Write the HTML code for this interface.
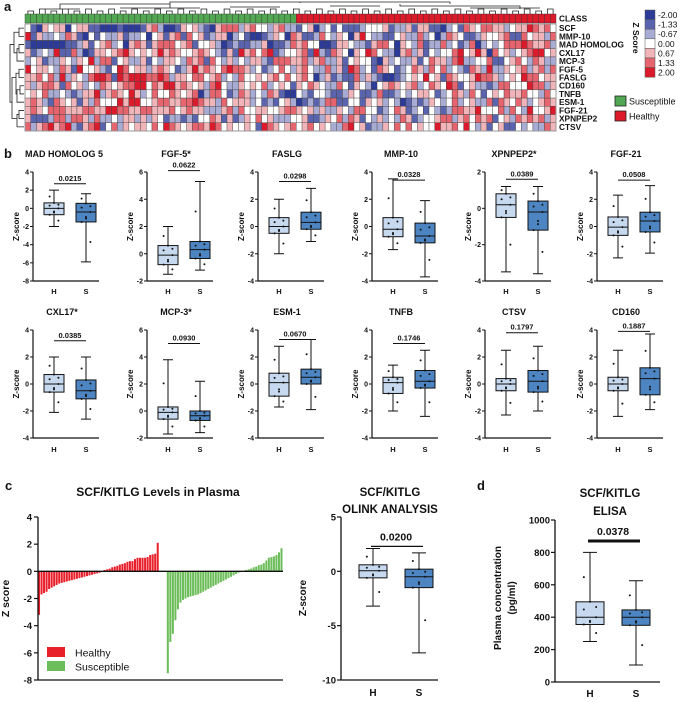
<!DOCTYPE html>
<html><head><meta charset="utf-8"><style>
html,body{margin:0;padding:0;background:#fff}
svg{display:block;font-family:"Liberation Sans",sans-serif}
</style></head><body>
<svg id="fig" width="681" height="702" viewBox="0 0 681 702" xmlns="http://www.w3.org/2000/svg"></svg>
<script>
// ---------- DATA ----------
const heatRows = ["SCF","MMP-10","MAD HOMOLOG","CXL17","MCP-3","FGF-5","FASLG","CD160","TNFB","ESM-1","FGF-21","XPNPEP2","CTSV"];
const heatLevels = [
"3104344034411000100014520014342104555245332452213402313111233341224144110231543554423446545301",
"6142232541031322412230341451534124402310012430541125324304632211342252302543112433451153442534",
"1000000112413452304541455534513342012112240112545330014432214553043251225231250232355565445234",
"4123261152014434564343464543345432141645356123345162154304365322045241323356346405342345663424",
"2341224324362551342241324432545153242324421555445245224134331042322413544256223351134532542245",
"6344325416334213653442454312464543565542312353245322524165231543123542535232154262243452452543",
"4453526243256651656665565244355345232533434535345302412115242100123436341543346554234365534432",
"4245541534232543455663546645434256322434352343143543225314320345434523543651342212553336552422",
"3435223212446245436423533543450255312542325410032133211243112511232344312354253134354453325342",
"4542154341425333646633455445565442534442312134201212551133143423201212432352342251543542345443",
"4543555444554466554455444534544222452533443345543424224325533123541231321255446333525326334631",
"4111255255425223244242431221213354141243534222334112435254132423254123345524535451342545452412",
"5245645621456135243443536543455465343343165434534534322563412243535343364453632413411323225423"
];
const heatColors = ["#2c3b98","#5a63ad","#a8abd3","#ffffff","#f1b4b9","#e5646e","#db1b2b"];
const legendLabels = ["-2.00","-1.33","-0.67","0.00","0.67","1.33","2.00"];

const boxTitles = ["MAD HOMOLOG 5","FGF-5*","FASLG","MMP-10","XPNPEP2*","FGF-21","CXL17*","MCP-3*","ESM-1","TNFB","CTSV","CD160"];
const boxPvals = ["0.0215","0.0622","0.0298","0.0328","0.0389","0.0508","0.0385","0.0930","0.0670","0.1746","0.1797","0.1887"];
const yMax = [4,6,4,4,2,4, 4,6,4,4,4,4];
const yMin = [-8,-2,-4,-4,-4,-4, -4,-2,-4,-4,-4,-4];
const bracketVal = [2.7,6.1,3.3,3.4,1.6,3.4, 3.2,5.0,3.3,3.0,3.8,3.9];
// [min,q1,med,q3,max]
const healthyStats = [
[-2,-0.7,0,0.6,2],[-1.5,-0.8,-0.1,0.6,2],[-2,-0.5,0,0.65,2],[-1.7,-0.75,-0.2,0.65,3.5],[-3.5,-0.5,0.2,0.8,1.2],[-2.3,-0.65,-0.05,0.7,2.3],
[-2.1,-0.6,0,0.7,2],[-1.7,-0.6,-0.1,0.3,3.8],[-1.7,-0.9,0.1,0.8,2.8],[-2,-0.7,0.1,0.5,1.4],[-2.3,-0.5,0,0.4,2.5],[-2.4,-0.5,0,0.5,2.5]];
const suscStats = [
[-5.9,-1.5,-0.4,0.55,1.6],[-1.2,-0.35,0.3,0.9,5.3],[-1.1,-0.2,0.3,1.05,2.8],[-3.7,-1.2,-0.7,0.25,1.9],[-3.6,-1.2,-0.2,0.4,1.2],[-1.95,-0.4,0.4,1.05,3],
[-2.6,-1.1,-0.5,0.3,2],[-1.6,-0.7,-0.35,0,2.2],[-1.9,0,0.5,1.1,3.3],[-2.4,-0.3,0.2,1.0,2.5],[-2.0,-0.6,0.2,1.0,2.8],[-1.9,-0.8,0.4,1.2,3.7]];

const healthyBars = [-3.2,-1.7,-1.6,-1.5,-1.3,-1.2,-1.1,-1.0,-0.9,-0.85,-0.8,-0.75,-0.7,-0.65,-0.6,-0.55,-0.5,-0.45,-0.4,-0.35,-0.3,-0.25,-0.2,-0.15,-0.1,-0.05,0.1,0.15,0.2,0.3,0.35,0.4,0.5,0.55,0.6,0.7,0.75,0.75,0.9,1.0,1.0,1.0,1.0,1.05,1.2,1.25,1.3,2.1];
const suscBars = [-7.5,-5.2,-4.6,-3.6,-2.8,-2.3,-2.1,-2.0,-1.9,-1.85,-1.8,-1.75,-1.7,-1.6,-1.5,-1.4,-1.3,-1.2,-1.1,-1.0,-0.9,-0.8,-0.7,-0.6,-0.5,-0.4,-0.3,-0.2,-0.1,-0.05,0.05,0.1,0.15,0.2,0.3,0.35,0.45,0.5,0.6,0.8,1.0,1.05,1.1,1.2,1.4,1.7];
const cTicks = [4,2,0,-2,-4,-6,-8];

const olinkStats = [[-3.2,-0.6,0.05,0.6,2.1],[-7.5,-1.5,-0.5,0.2,1.7]];
const olinkTicks = [5,0,-5,-10];
const elisaStats = [[250,355,400,495,800],[105,350,400,445,625]];
const elisaTicks = [1000,800,600,400,200,0];

// ---------- HELPERS ----------
const NS="http://www.w3.org/2000/svg";
const svg=document.getElementById('fig');
function mk(tag,attrs,parent,text){const e=document.createElementNS(NS,tag);for(const k in attrs)e.setAttribute(k,attrs[k]);if(text!==undefined)e.textContent=text;(parent||svg).appendChild(e);return e;}
function txt(x,y,s,size,anchor,extra){return mk('text',Object.assign({x:x,y:y,'font-size':size,'font-weight':'bold','text-anchor':anchor||'start',fill:'#111'},extra||{}),svg,s);}

// ---------- PANEL A ----------
let t=txt(4,11,'a',13);


const hx0=25,hx1=556,hy0=24,hy1=131,nCol=92,nRow=heatRows.length;
const cw=(hx1-hx0)/nCol, rh=(hy1-hy0)/nRow;
const nGreen=47;
const gHeat=mk('g',{});


for(let c=0;c<nCol;c++){
  const r=mk('rect',{x:hx0+c*cw,y:14,width:cw,height:9,fill:c<nGreen?'#52a852':'#dc1a2a',stroke:'#333','stroke-width':0.4},gHeat);
  
  
}
for(let r=0;r<nRow;r++){
  for(let c=0;c<nCol;c++){
    const ch=heatLevels[r][c]; const lv=(ch===undefined||ch===' ')?3:+ch;
    const e=mk('rect',{x:hx0+c*cw,y:hy0+r*rh,width:cw,height:rh,fill:heatColors[lv],stroke:'#444','stroke-width':0.4},gHeat);
    
    
  }
  const l=txt(hx1+3,hy0+r*rh+rh/2+3,heatRows[r],8.3);
  
  
}
mk('rect',{x:hx0,y:hy0,width:hx1-hx0,height:hy1-hy0,fill:'none',stroke:'#999','stroke-width':1});
t=txt(hx1+3,21.5,'CLASS',8.3);


const dg=mk('g',{stroke:'#222','stroke-width':0.8,fill:'none'});


let dp='';
for(let c=0;c<nCol;c+=2){const x=hx0+c*cw+cw/2;dp+=`M${x} 14V${11-(c%4)}H${x+cw}V14`;}
dp+='M60 9V4H170V8M170 4V2H300V3M300 2H450V4M400 4V6H520V9M40 9H80M120 8H200M230 7H280M330 6H380M470 8H540';
mk('path',{d:dp},dg);
const lg=mk('g',{stroke:'#222','stroke-width':0.8,fill:'none'});


const ry=i=>hy0+i*rh+rh/2;
mk('path',{d:`M24 ${ry(0)}H19V${ry(1)}H24M24 ${ry(2)}H19V${ry(3)}H24M24 ${ry(4)}H17V${(ry(2)+ry(3))/2}H19M19 ${(ry(0)+ry(1))/2}H14V${ry(3)}H17M24 ${ry(5)}H19V${ry(6)}H24M24 ${ry(7)}H20V${ry(8)}H24M24 ${ry(9)}H17V${ry(7)+4}H20M19 ${ry(5)+4}H16V${ry(8)}H17M24 ${ry(10)}H19V${ry(11)}H24M24 ${ry(12)}H17V${ry(10)+4}H19M16 ${ry(6)}H12V${ry(11)}H17M14 ${ry(2)}H10V${ry(9)}H12`},lg);
for(let i=0;i<7;i++){
  const y=10+i*9.6;
  const r=mk('rect',{x:645,y:y,width:10,height:9.6,fill:heatColors[i],stroke:'#555','stroke-width':0.5});
  
  
  const l=txt(658,y+8,legendLabels[i],8.5,'start',{'font-weight':'normal'});
  
  
}
t=txt(0,0,'Z Score',8.5,'middle',{transform:'translate(633,38) rotate(90)'});


[['#52a852','Susceptible',96],['#dc1a2a','Healthy',111]].forEach(([col,lab,y])=>{
  const r=mk('rect',{x:615,y:y,width:11,height:10,fill:col,stroke:'#222','stroke-width':0.8});
  
  
  const l=txt(629,y+8.5,lab,9,'start',{'font-weight':'normal'});
  
  
});

// ---------- BOX PLOT HELPER ----------
function boxplot(g,cx,w,st,ys,fill){
  const [mn,q1,md,q3,mx]=st;
  mk('path',{d:`M${cx} ${ys(mx)}V${ys(q3)}M${cx} ${ys(q1)}V${ys(mn)}M${cx-w/4} ${ys(mx)}H${cx+w/4}M${cx-w/4} ${ys(mn)}H${cx+w/4}`,stroke:'#111','stroke-width':1,fill:'none'},g);
  const b=mk('rect',{x:cx-w/2,y:ys(q3),width:w,height:ys(q1)-ys(q3),fill:fill,stroke:'#111','stroke-width':1},g);
  
  
  mk('line',{x1:cx-w/2,x2:cx+w/2,y1:ys(md),y2:ys(md),stroke:'#111','stroke-width':1},g);
  const vals=[q1,(q1+md)/2,md,(md+q3)/2,q3,(mn+q1)/2,(q3+mx)/2,(q1*2+md)/3,(q3*2+md)/3];
  vals.forEach((v,i)=>{mk('circle',{cx:cx+((i%3)-1)*w*0.22,cy:ys(v),r:1,fill:'#111'},g);});
}

// ---------- PANEL B ----------
t=txt(4,158,'b',13);


const axX=[33,147,258,372,485,597];
const rowsB=[{title:157,top:172,bot:281,hs:294},{title:315,top:330,bot:438,hs:452}];
for(let k=0;k<12;k++){
  const R=rowsB[Math.floor(k/6)], ax=axX[k%6];
  const g=mk('g',{});
  
  
  const ys=v=>R.top+(yMax[k]-v)/(yMax[k]-yMin[k])*(R.bot-R.top);
  const tt=txt(ax+(k===0?-8:29),R.title,boxTitles[k],9,k===0?'start':'middle');
  
  
  mk('line',{x1:ax,x2:ax,y1:R.top,y2:R.bot,stroke:'#111','stroke-width':1.2},g);
  mk('line',{x1:ax,x2:ax+66,y1:R.bot,y2:R.bot,stroke:'#111','stroke-width':1.2},g);
  for(let v=yMax[k];v>=yMin[k];v-=2){
    mk('line',{x1:ax-3,x2:ax,y1:ys(v),y2:ys(v),stroke:'#111','stroke-width':1},g);
    const l=txt(ax-4,ys(v)+2.5,String(v),7,'end');
    
    
  }
  const yl=txt(0,0,'Z-score',8,'middle',{transform:`translate(${ax-14},${(R.top+R.bot)/2}) rotate(-90)`});
  
  
  const hX=ax+21,sX=ax+53;
  boxplot(g,hX,20,healthyStats[k],ys,'#c6d9ee');
  boxplot(g,sX,20,suscStats[k],ys,'#4d85c3');
  const by=ys(bracketVal[k]);
  mk('line',{x1:hX,x2:sX,y1:by,y2:by,stroke:'#111','stroke-width':1},g);
  const pv=txt((hX+sX)/2,by-3,boxPvals[k],7.5,'middle');
  
  
  ['H','S'].forEach((s,i)=>{const l=txt(i?sX:hX,R.hs,s,7.5,'middle');});
}

// ---------- PANEL C ----------
t=txt(5,490,'c',13);


t=txt(158,496,'SCF/KITLG Levels in Plasma',12,'middle');


const cTop=517,cBot=680,cAx=38;
const cy=v=>cTop+(4-v)/12*(cBot-cTop);
const slotW=245/97;
const gc=mk('g',{});


healthyBars.forEach((v,i)=>{
  const x=cAx+i*slotW;
  const b=mk('rect',{x:x,y:Math.min(cy(v),cy(0)),width:slotW*0.8,height:Math.abs(cy(v)-cy(0)),fill:'#e8202b'},gc);
  
  
});
suscBars.forEach((v,i)=>{
  const x=cAx+(healthyBars.length+3+i)*slotW;
  const b=mk('rect',{x:x,y:Math.min(cy(v),cy(0)),width:slotW*0.8,height:Math.abs(cy(v)-cy(0)),fill:'#6dbe5a'},gc);
  
  
});
mk('line',{x1:cAx,x2:283,y1:cy(0),y2:cy(0),stroke:'#111','stroke-width':1.3},gc);
mk('line',{x1:cAx,x2:283,y1:cBot,y2:cBot,stroke:'#111','stroke-width':1.3},gc);
mk('line',{x1:cAx,x2:cAx,y1:cTop,y2:cBot,stroke:'#111','stroke-width':1.3},gc);
cTicks.forEach(v=>{
  mk('line',{x1:cAx-4,x2:cAx,y1:cy(v),y2:cy(v),stroke:'#111','stroke-width':1.2},gc);
  const l=txt(cAx-6,cy(v)+3.5,String(v),9.5,'end');
  
  
});
t=txt(0,0,'Z score',10.5,'middle',{transform:`translate(9,${(cTop+cBot)/2}) rotate(-90)`});


[['#e8202b','Healthy',647],['#6dbe5a','Susceptible',661]].forEach(([c,l,y])=>{
  const r=mk('rect',{x:47,y:y,width:18,height:10,fill:c});
  
  
  const e=txt(75,y+9.5,l,10.5,'start',{'font-weight':'normal'});
  
  
});

// ---------- OLINK / ELISA ----------
function bigBox(ax,ticks,vmax,vmin,top,bot,hsY,stats,hx,sx,bw,pval,bval,xEnd,key,thick){
  const g=mk('g',{});
  
  
  const ys=v=>top+(vmax-v)/(vmax-vmin)*(bot-top);
  mk('line',{x1:ax,x2:ax,y1:top,y2:bot,stroke:'#111','stroke-width':1.3},g);
  mk('line',{x1:ax,x2:xEnd,y1:bot,y2:bot,stroke:'#111','stroke-width':1.3},g);
  ticks.forEach(v=>{
    mk('line',{x1:ax-4,x2:ax,y1:ys(v),y2:ys(v),stroke:'#111','stroke-width':1.2},g);
    const l=txt(ax-5,ys(v)+3.5,String(v),9.5,'end');
    
    
  });
  boxplot(g,hx,bw,stats[0],ys,'#c6d9ee');
  boxplot(g,sx,bw,stats[1],ys,'#4d85c3');
  const by=ys(bval);
  mk('line',{x1:hx-2,x2:sx+4,y1:by,y2:by,stroke:'#111','stroke-width':thick},g);
  const p=txt((hx+sx)/2,by-6,pval,10.5,'middle');
  
  
  ['H','S'].forEach((s,i)=>{const l=txt(i?sx:hx,hsY,s,10,'middle');});
}
t=txt(390,496,'SCF/KITLG',11.5,'middle');


t=txt(390,513,'OLINK ANALYSIS',11.5,'middle');


bigBox(341,olinkTicks,5,-10,517,680,696,olinkStats,373,419,28,'0.0200',2.3,438,'olink-boxplot',1.3);
t=txt(0,0,'Z-score',10,'middle',{transform:'translate(306,598) rotate(-90)'});



t=txt(477,490,'d',13);


t=txt(610,497,'SCF/KITLG',11.5,'middle');


t=txt(610,515,'ELISA',11.5,'middle');


bigBox(555,elisaTicks,1000,0,520,682,697,elisaStats,590,636,28,'0.0378',870,660,'elisa-boxplot',3);
t=txt(0,0,'Plasma concentration',10,'middle',{transform:'translate(501,598) rotate(-90)'});


t=txt(0,0,'(pg/ml)',10,'middle',{transform:'translate(515,598) rotate(-90)'});


</script>
</body></html>
